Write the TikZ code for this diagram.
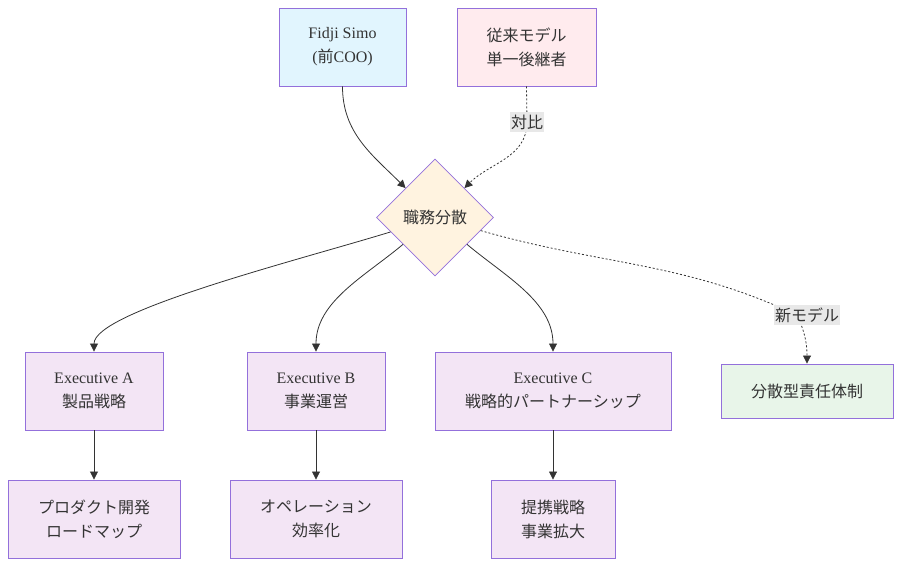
\documentclass[tikz,border=0pt]{standalone}
\usepackage{fontspec}
\setmainfont{Liberation Serif}
\newfontfamily\jp{Noto Sans CJK JP}
\usepackage{xcolor}
\usepackage{tikz}
\usetikzlibrary{shapes.geometric, arrows.meta}

\definecolor{cLine}{HTML}{333333}
\definecolor{cBorder}{HTML}{9370DB}
\definecolor{cBlue}{HTML}{E1F5FE}
\definecolor{cPink}{HTML}{FFEBEE}
\definecolor{cOrange}{HTML}{FFF3E0}
\definecolor{cPurple}{HTML}{F3E5F5}
\definecolor{cGreen}{HTML}{E8F5E9}
\definecolor{cLabel}{HTML}{E8E8E8}

\begin{document}
\begin{tikzpicture}[
      x=1pt, y=1pt,
      every node/.style = {text=cLine, font=\fontsize{16}{24}\selectfont},
      box/.style = {shape=rectangle, draw=cBorder, line width=0.9pt,
        align=center, minimum height=78pt, inner sep=0pt},
      decision/.style = {shape=diamond, draw=cBorder, line width=0.7pt,
        fill=cOrange, minimum size=117pt, inner sep=0pt},
      lbl/.style = {fill=cLabel, inner xsep=1pt, inner ysep=3pt,
        font=\fontsize{16}{20}\selectfont\jp},
      arr/.style = {draw=cLine, line width=0.8pt,
        -{Triangle[length=8pt, width=8pt]}},
      dot/.style = {dash pattern=on 2pt off 2pt}
    ]
      \useasboundingbox (0,0) rectangle (901,566);

      % top row
      \node[box, fill=cBlue, minimum width=127pt] (fidji) at (342.5,519)
        {Fidji Simo\\({\jp 前}COO)};
      \node[box, fill=cPink, minimum width=139pt] (old) at (526.5,519)
        {{\jp 従来モデル}\\{\jp 単一後継者}};

      % decision
      \node[decision] (split) at (435,348.5) {\jp 職務分散};

      % executives
      \node[box, fill=cPurple, minimum width=138pt] (exA) at (94,175)
        {Executive A\\{\jp 製品戦略}};
      \node[box, fill=cPurple, minimum width=138pt] (exB) at (316,175)
        {Executive B\\{\jp 事業運営}};
      \node[box, fill=cPurple, minimum width=236pt] (exC) at (553,175)
        {Executive C\\{\jp 戦略的パートナーシップ}};
      \node[box, fill=cGreen, minimum width=172pt, minimum height=54pt] (dist) at (807,175)
        {\jp 分散型責任体制};

      % tasks
      \node[box, fill=cPurple, minimum width=172pt] (taskA) at (94,47)
        {{\jp プロダクト開発}\\{\jp ロードマップ}};
      \node[box, fill=cPurple, minimum width=172pt] (taskB) at (316,47)
        {{\jp オペレーション}\\{\jp 効率化}};
      \node[box, fill=cPurple, minimum width=124pt] (taskC) at (553,47)
        {{\jp 提携戦略}\\{\jp 事業拡大}};

      % connectors
      \draw[arr] (fidji.south) to[out=-90, in=135] (split.north west);

      \coordinate (contrast) at (527,444);
      \draw[arr, dot] (old.south) -- (contrast)
        node[lbl] {対比} to[out=-90, in=45] (split.north east);

      \draw[arr] (split.198) .. controls +(197:100) and +(90:40) .. (exA.north);
      \draw[arr] (split.220) .. controls +(220:50) and +(90:50) .. (exB.north);
      \draw[arr] (split.320) .. controls +(320:50) and +(90:50) .. (exC.north);

      \coordinate (newmodel) at (797,251);
      \draw[arr, dot] (split.344) to[out=-16, in=155] (newmodel)
        node[lbl, xshift=10pt] {新モデル} to[out=-65, in=90] (dist.north);

      \draw[arr] (exA) -- (taskA);
      \draw[arr] (exB) -- (taskB);
      \draw[arr] (exC) -- (taskC);
    \end{tikzpicture}
\end{document}
